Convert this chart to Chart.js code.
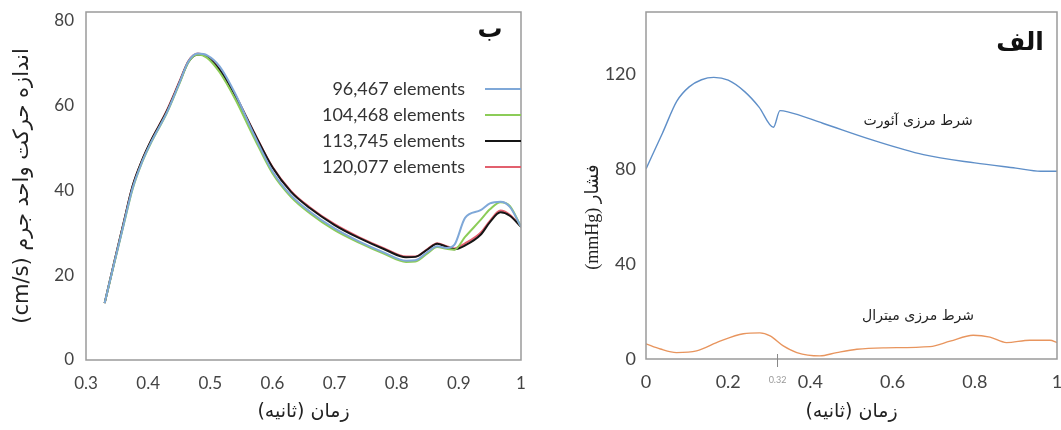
<!DOCTYPE html>
<html>
<head>
<meta charset="utf-8">
<script src="https://cdn.jsdelivr.net/npm/chart.js@4.4.0/dist/chart.umd.min.js"></script>
<style>
html, body { margin: 0; padding: 0; background: #fff; }
#wrap { position: relative; width: 1061px; height: 430px; }
canvas { position: absolute; top: 0; }
</style>
</head>
<body>
<div id="wrap">
  <canvas id="chartB" width="540" height="430" style="left:0"></canvas>
  <canvas id="chartA" width="521" height="430" style="left:540px"></canvas>
</div>
<script>
// ---- panel ب : momentum per unit mass for 4 meshes ----
const timeB = [0.33, 0.345, 0.36, 0.375, 0.39, 0.405, 0.43, 0.45, 0.465, 0.48, 0.495, 0.515, 0.54, 0.57, 0.6, 0.63, 0.66, 0.7, 0.74, 0.78, 0.815, 0.83, 0.85, 0.865, 0.88, 0.893, 0.91, 0.935, 0.95, 0.967, 0.982, 1.0];
const mesh96467  = [13.4, 22.6, 31.6, 40.5, 46.6, 51.4, 58.3, 65.2, 70.4, 72.2, 71.8, 69.2, 62.8, 53.2, 44.5, 38.8, 35.0, 31.0, 27.9, 25.3, 23.4, 23.5, 25.5, 26.8, 26.4, 27.2, 33.5, 35.3, 36.9, 37.3, 36.1, 31.4];
const mesh104468 = [13.4, 22.5, 31.5, 40.3, 46.5, 51.3, 58.2, 65.0, 70.2, 72.0, 71.2, 67.8, 61.5, 52.5, 44.0, 38.4, 34.6, 30.6, 27.6, 25.0, 23.1, 23.2, 25.2, 26.6, 26.2, 26.0, 29.0, 33.0, 35.5, 37.2, 36.3, 31.4];
const mesh113745 = [13.4, 22.8, 32.0, 41.0, 47.0, 51.8, 58.6, 65.3, 70.3, 72.0, 71.4, 68.4, 62.4, 53.7, 45.4, 39.6, 35.8, 31.8, 28.7, 26.1, 24.2, 24.3, 26.1, 27.4, 26.7, 26.1, 27.0, 29.5, 32.5, 34.8, 34.0, 31.4];
const mesh120077 = [13.4, 22.8, 32.0, 41.0, 47.0, 51.8, 58.8, 65.5, 70.5, 72.2, 71.6, 68.5, 62.5, 53.8, 45.5, 39.8, 36.0, 32.0, 28.9, 26.3, 24.4, 24.4, 26.2, 27.5, 26.8, 26.3, 27.5, 30.0, 32.8, 35.2, 34.2, 31.4];
const meshLabels = ['96,467 elements', '104,468 elements', '113,745 elements', '120,077 elements'];
const meshColors = ['#7fa8d8', '#8ccc58', '#151515', '#e2606e'];
const xTicksB = [0.3, 0.4, 0.5, 0.6, 0.7, 0.8, 0.9, 1];
const yTicksB = [0, 20, 40, 60, 80];

// ---- panel الف : pressure boundary conditions ----
const timeAortic = [0, 0.04, 0.075, 0.105, 0.135, 0.165, 0.2, 0.24, 0.275, 0.31, 0.326, 0.345, 0.43, 0.55, 0.675, 0.8, 0.9, 0.96, 1.0];
const aortic     = [80, 95, 108.5, 114.5, 117.5, 118.5, 117.3, 112.5, 106, 97.5, 104.5, 104, 99.2, 92.2, 86, 82.5, 80.3, 79, 79];
const timeMitral = [0, 0.035, 0.074, 0.123, 0.18, 0.237, 0.277, 0.302, 0.334, 0.367, 0.423, 0.464, 0.513, 0.577, 0.691, 0.74, 0.796, 0.837, 0.877, 0.934, 0.983, 1.0];
const mitral     = [6.4, 4.2, 2.7, 3.4, 7.5, 10.6, 11, 9.7, 5.5, 2.7, 1.3, 2.7, 4.1, 4.7, 5.2, 7.5, 10, 9.2, 6.9, 7.9, 7.9, 6.9];
const xTicksA = [0, 0.2, 0.4, 0.6, 0.8, 1];
const yTicksA = [0, 40, 80, 120];
const valveClose = 0.32;

const latin = 'Lato, Open Sans, sans-serif';
const faFont = 'DejaVu Sans, sans-serif';
const xTitle = '\u200Fزمان (ثانیه)\u200F';

function pts(xs, ys) { return xs.map((x, i) => ({ x: x, y: ys[i] })); }

function fixedTicks(list) {
  return function (axis) { axis.ticks = list.map(v => ({ value: v })); };
}

// force the plot box to an exact size, no label overhang padding
function fitTo(prop, size) {
  return function (s) {
    s[prop] = size;
    s.paddingLeft = s.paddingRight = s.paddingTop = s.paddingBottom = 0;
  };
}

const boxPlugin = {
  id: 'box',
  afterDraw(chart, args, opts) {
    const { ctx, chartArea: a } = chart;
    ctx.save();
    ctx.strokeStyle = '#9a9a9a';
    ctx.lineWidth = 1.5;
    ctx.strokeRect(a.left, a.top, a.right - a.left, a.bottom - a.top);
    ctx.fillStyle = '#111';
    ctx.font = 'bold 25px ' + faFont;
    ctx.textAlign = 'center';
    ctx.textBaseline = 'middle';
    ctx.fillText(opts.tag, a.right - opts.tagDx, a.top + opts.tagDy);
    if (opts.legend) {
      ctx.font = '18px ' + latin;
      ctx.textAlign = 'right';
      chart.data.datasets.forEach((ds, i) => {
        const y = a.top + 77 + i * 26;
        ctx.fillStyle = '#333';
        ctx.fillText(ds.label, a.right - 56, y);
        ctx.strokeStyle = ds.borderColor;
        ctx.lineWidth = 2;
        ctx.beginPath();
        ctx.moveTo(a.right - 36, y);
        ctx.lineTo(a.right, y);
        ctx.stroke();
      });
    }
    if (opts.notes) {
      const xs = chart.scales.x, ys = chart.scales.y;
      ctx.font = '14px ' + faFont;
      ctx.textAlign = 'center';
      ctx.fillStyle = '#222';
      opts.notes.forEach(n => ctx.fillText(n.text, xs.getPixelForValue(n.x), ys.getPixelForValue(n.y)));
      const px = xs.getPixelForValue(valveClose);
      ctx.strokeStyle = '#888';
      ctx.lineWidth = 1;
      ctx.beginPath();
      ctx.moveTo(px, a.bottom - 5);
      ctx.lineTo(px, a.bottom + 8);
      ctx.stroke();
      ctx.font = '9px ' + latin;
      ctx.fillStyle = '#999';
      ctx.fillText(String(valveClose), px, a.bottom + 21);
    }
    ctx.restore();
  }
};

new Chart(document.getElementById('chartB'), {
  type: 'line',
  data: {
    datasets: [mesh96467, mesh104468, mesh113745, mesh120077].map((ys, i) => ({
      label: meshLabels[i],
      data: pts(timeB, ys),
      borderColor: meshColors[i],
      borderWidth: 2,
      pointRadius: 0,
      cubicInterpolationMode: 'monotone'
    }))
  },
  options: {
    responsive: false,
    animation: false,
    layout: { padding: { top: 12, right: 19, left: 0, bottom: 0 } },
    plugins: {
      legend: { display: false },
      tooltip: { enabled: false },
      box: { tag: 'ب', tagDx: 31, tagDy: 18, legend: true }
    },
    scales: {
      x: {
        type: 'linear', min: 0.3, max: 1,
        afterBuildTicks: fixedTicks(xTicksB),
        afterFit: fitTo('height', 70),
        grid: { display: false, drawTicks: false },
        border: { display: false },
        ticks: { color: '#444', font: { family: latin, size: 17 }, padding: 13, maxRotation: 0, callback: v => String(v) },
        title: { display: true, text: xTitle, color: '#222', font: { family: faFont, size: 19 }, padding: { top: 0, bottom: 7 } }
      },
      y: {
        min: 0, max: 82,
        afterBuildTicks: fixedTicks(yTicksB),
        afterFit: fitTo('width', 86),
        grid: { display: false, drawTicks: false },
        border: { display: false },
        ticks: { color: '#444', font: { family: latin, size: 17 }, padding: 12 },
        title: { display: true, text: '(cm/s) اندازه حرکت واحد جرم', color: '#222', font: { family: faFont, size: 21 }, padding: { top: 10, bottom: 0 } }
      }
    }
  },
  plugins: [boxPlugin]
});

new Chart(document.getElementById('chartA'), {
  type: 'line',
  data: {
    datasets: [
      { label: 'آئورت', data: pts(timeAortic, aortic), borderColor: '#5f8fc8', borderWidth: 1.4, pointRadius: 0, cubicInterpolationMode: 'monotone' },
      { label: 'میترال', data: pts(timeMitral, mitral), borderColor: '#e8955e', borderWidth: 1.4, pointRadius: 0, cubicInterpolationMode: 'monotone' }
    ]
  },
  options: {
    responsive: false,
    animation: false,
    layout: { padding: { top: 12, right: 4, left: 0, bottom: 0 } },
    plugins: {
      legend: { display: false },
      tooltip: { enabled: false },
      box: {
        tag: 'الف', tagDx: 37, tagDy: 31,
        notes: [
          { text: 'شرط مرزی آئورت', x: 0.662, y: 100 },
          { text: 'شرط مرزی میترال', x: 0.662, y: 18 }
        ]
      }
    },
    scales: {
      x: {
        type: 'linear', min: 0, max: 1,
        afterBuildTicks: fixedTicks(xTicksA),
        afterFit: fitTo('height', 71),
        grid: { display: false, drawTicks: false },
        border: { display: false },
        ticks: { color: '#444', font: { family: latin, size: 18 }, padding: 12, maxRotation: 0, callback: v => String(v) },
        title: { display: true, text: xTitle, color: '#222', font: { family: faFont, size: 19 }, padding: { top: 0, bottom: 7 } }
      },
      y: {
        min: 0, max: 146,
        afterBuildTicks: fixedTicks(yTicksA),
        afterFit: fitTo('width', 106),
        grid: { display: false, drawTicks: false },
        border: { display: false },
        ticks: { color: '#444', font: { family: latin, size: 18 }, padding: 10 },
        // trailing em spaces push the visible title down the axis, as in the original
        title: { display: true, text: '(mmHg) فشار\u2003\u2003\u2003\u2002', color: '#222', font: { family: 'Liberation Serif, DejaVu Sans, serif', size: 18 }, padding: { top: 42, bottom: 0 } }
      }
    }
  },
  plugins: [boxPlugin]
});
</script>
</body>
</html>
